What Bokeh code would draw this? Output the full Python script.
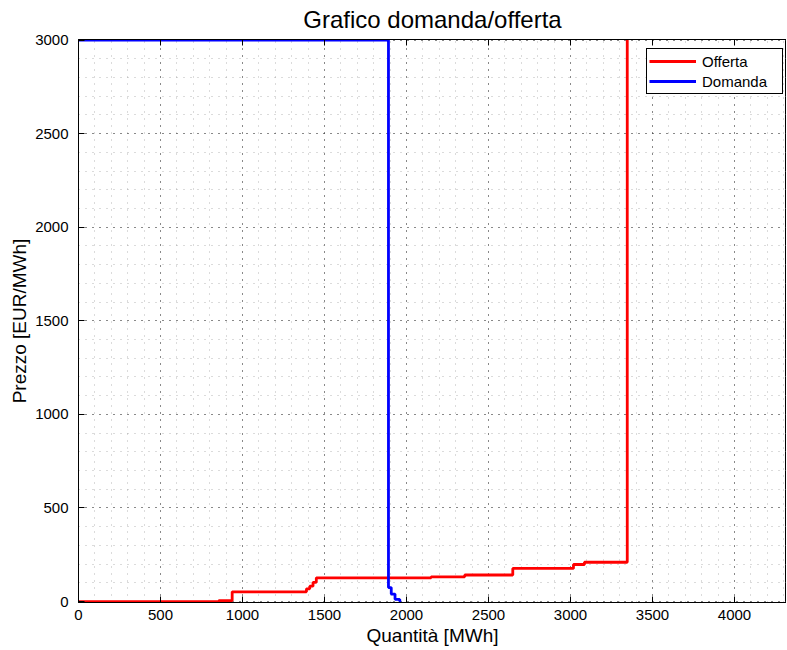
from bokeh.plotting import figure
from bokeh.models import Range1d, SingleIntervalTicker, LinearAxis, Legend, LegendItem, CustomLabelingPolicy
from bokeh.embed import file_html
from bokeh.resources import INLINE

# Offer curve (step "after"): quantity breakpoints [MWh] and price [EUR/MWh]
offer_q = [0, 855, 937, 1390, 1410, 1430, 1450, 2150, 2355, 2648, 3018, 3085, 3346]
offer_p = [0, 5, 52, 68, 82, 103, 127, 132, 142, 177, 198, 210, 3000]

# Demand curve (step "after")
demand_q = [0, 1890, 1907, 1930, 1958, 1968]
demand_p = [3000, 75, 40, 12, 3, 3]

x_ticks_interval = 500
y_ticks_interval = 500

FONT = "Liberation Sans"

p = figure(
    output_backend="svg", toolbar_location=None,
    frame_width=708, frame_height=563,
    min_border_left=60, min_border_right=0, min_border_top=32, min_border_bottom=40,
    x_range=Range1d(0, 4317), y_range=Range1d(-5, 3003),
    title="Grafico domanda/offerta",
)
p.margin = (0, 0, 0, 6)
p.title.align = "center"
p.title.text_font = FONT
p.title.text_font_size = "24px"
p.title.text_font_style = "normal"
p.title.text_color = "#000000"
p.title.standoff = 6
p.title.offset = 0

r_off = p.step(offer_q, offer_p, mode="after", line_color="#ff0000", line_width=2.8)
r_dem = p.step(demand_q, demand_p, mode="after", line_color="#0000ff", line_width=2.8)

xt = SingleIntervalTicker(interval=x_ticks_interval, num_minor_ticks=5)
yt = SingleIntervalTicker(interval=y_ticks_interval, num_minor_ticks=5)
p.xaxis.ticker = xt
p.yaxis.ticker = yt
p.xgrid.ticker = xt
p.ygrid.ticker = yt

for g in (p.xgrid, p.ygrid):
    g.grid_line_color = "#000000"
    g.grid_line_alpha = 0.75
    g.grid_line_dash = "1 6"
    g.grid_line_width = 1
    g.minor_grid_line_color = "#999999"
    g.minor_grid_line_alpha = 0.7
    g.minor_grid_line_dash = "1 6"
    g.minor_grid_line_width = 1

for ax in (p.xaxis, p.yaxis):
    ax.major_tick_in = 6
    ax.major_tick_out = 0
    ax.minor_tick_line_color = None
    ax.axis_line_color = "#000000"
    ax.major_tick_line_color = "#000000"
    ax.major_label_text_font = FONT
    ax.major_label_text_font_size = "15px"
    ax.major_label_text_color = "#000000"
    ax.axis_label_text_font = FONT
    ax.axis_label_text_font_size = "19px"
    ax.axis_label_text_font_style = "normal"
    ax.axis_label_text_color = "#000000"

p.xaxis.axis_label = "Quantità [MWh]"
p.yaxis.axis_label = "Prezzo [EUR/MWh]"
p.xaxis.major_label_standoff = 3
p.xaxis.axis_label_standoff = 2
p.yaxis.major_label_standoff = 6
p.yaxis.axis_label_standoff = 2

top_ax = LinearAxis(ticker=xt)
top_ax.major_tick_in = 6
top_ax.major_tick_out = 0
top_ax.minor_tick_line_color = None
top_ax.major_label_policy = CustomLabelingPolicy(code="return new Set()")
top_ax.major_label_text_font_size = "0px"
top_ax.major_label_standoff = 0
top_ax.axis_line_color = "#000000"
p.add_layout(top_ax, "above")

p.outline_line_color = "#000000"
p.outline_line_alpha = 1
p.background_fill_color = "white"
p.border_fill_color = "white"

legend = Legend(
    items=[LegendItem(label="Offerta", renderers=[r_off]),
           LegendItem(label="Domanda", renderers=[r_dem])],
    location=(568, 508),
)
legend.margin = 0
legend.padding = 2
legend.spacing = 0
legend.glyph_width = 47
legend.label_standoff = 6
legend.label_width = 78
legend.label_text_font = FONT
legend.label_text_font_size = "15px"
legend.label_text_color = "#000000"
legend.border_line_color = "#000000"
legend.border_line_width = 1
legend.border_line_alpha = 1
legend.background_fill_alpha = 1
p.add_layout(legend, "center")

open("out.html", "w").write(file_html(p, INLINE))
